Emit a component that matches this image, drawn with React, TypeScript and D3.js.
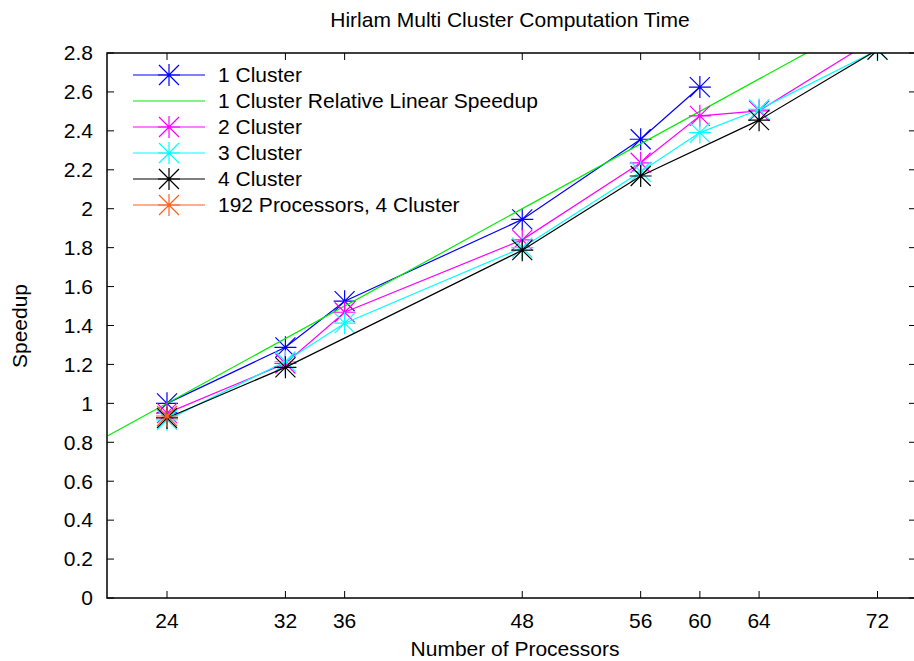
import React, { useEffect, useRef } from 'react';
import * as d3 from 'd3';

const xTicks = [24, 32, 36, 48, 56, 60, 64, 72];
const yTicks = [0, 0.2, 0.4, 0.6, 0.8, 1, 1.2, 1.4, 1.6, 1.8, 2, 2.2, 2.4, 2.6, 2.8];

const cluster1X = [24, 32, 36, 48, 56, 60];
const cluster1Y = [1.0, 1.288, 1.525, 1.945, 2.357, 2.625];

const linearX = [20, 72];
const linearY = [0.8333, 3.0];

const cluster2X = [24, 32, 36, 48, 56, 60, 64, 72];
const cluster2Y = [0.95, 1.205, 1.468, 1.84, 2.236, 2.477, 2.503, 2.88];

const cluster3X = [24, 32, 36, 48, 56, 60, 64, 72];
const cluster3Y = [0.915, 1.215, 1.412, 1.8, 2.19, 2.391, 2.51, 2.815];

const cluster4X = [24, 32, 48, 56, 64, 72];
const cluster4Y = [0.925, 1.185, 1.787, 2.168, 2.455, 2.817];

const p192X = [24];
const p192Y = [0.935];

const series = [
  { name: '1 Cluster', color: '#0000ff', xs: cluster1X, ys: cluster1Y, marks: true },
  { name: '1 Cluster Relative Linear Speedup', color: '#00ee00', xs: linearX, ys: linearY, marks: false },
  { name: '2 Cluster', color: '#ff00ff', xs: cluster2X, ys: cluster2Y, marks: true },
  { name: '3 Cluster', color: '#00ffff', xs: cluster3X, ys: cluster3Y, marks: true },
  { name: '4 Cluster', color: '#000000', xs: cluster4X, ys: cluster4Y, marks: true },
  { name: '192 Processors, 4 Cluster', color: '#ff6020', xs: p192X, ys: p192Y, marks: true },
];

const W = 914;
const H = 661;
const left = 107;
const right = 916;
const top = 53;
const bottom = 598;
const font = 'Liberation Sans, Arial, sans-serif';
const fs = '21px';

// gnuplot style star: plus and cross
const starPath = (r: number, d: number) =>
  `M${-r},0H${r}M0,${-r}V${r}M${-d},${-d}L${d},${d}M${-d},${d}L${d},${-d}`;

export default function App() {
  const ref = useRef<SVGSVGElement | null>(null);

  useEffect(() => {
    const svg = d3.select(ref.current);
    svg.selectAll('*').remove();

    const x = d3.scaleLinear().domain([24, 72]).range([167, 877.5]);
    const y = d3.scaleLinear().domain([0, 2.8]).range([bottom, top]);

    svg.append('rect').attr('width', W).attr('height', H).attr('fill', 'white');

    svg.append('defs').append('clipPath').attr('id', 'plotclip')
      .append('rect').attr('x', left).attr('y', top).attr('width', right - left).attr('height', bottom - top);

    // title
    svg.append('text')
      .attr('x', 510).attr('y', 27)
      .attr('text-anchor', 'middle')
      .style('font-family', font).style('font-size', fs)
      .text('Hirlam Multi Cluster Computation Time');

    // y ticks + labels
    const yg = svg.append('g');
    yTicks.forEach(t => {
      yg.append('line').attr('x1', left).attr('x2', left + 7).attr('y1', y(t)).attr('y2', y(t))
        .attr('stroke', 'black');
      yg.append('line').attr('x1', right - 7).attr('x2', right).attr('y1', y(t)).attr('y2', y(t))
        .attr('stroke', 'black');
      yg.append('text')
        .attr('x', 93).attr('y', y(t)).attr('dy', '0.35em')
        .attr('text-anchor', 'end')
        .style('font-family', font).style('font-size', fs)
        .text(String(+t.toFixed(1)));
    });

    // x ticks + labels
    const xg = svg.append('g');
    xTicks.forEach(t => {
      xg.append('line').attr('x1', x(t)).attr('x2', x(t)).attr('y1', bottom).attr('y2', bottom - 7)
        .attr('stroke', 'black');
      xg.append('line').attr('x1', x(t)).attr('x2', x(t)).attr('y1', top).attr('y2', top + 7)
        .attr('stroke', 'black');
      xg.append('text')
        .attr('x', x(t)).attr('y', 628)
        .attr('text-anchor', 'middle')
        .style('font-family', font).style('font-size', fs)
        .text(String(t));
    });

    // axis titles
    svg.append('text')
      .attr('x', 515).attr('y', 656)
      .attr('text-anchor', 'middle')
      .style('font-family', font).style('font-size', fs)
      .text('Number of Processors');
    svg.append('text')
      .attr('transform', `translate(27, 326) rotate(-90)`)
      .attr('text-anchor', 'middle')
      .style('font-family', font).style('font-size', fs)
      .text('Speedup');

    // series
    const plot = svg.append('g').attr('clip-path', 'url(#plotclip)');
    const line = d3.line<[number, number]>().x(d => x(d[0])).y(d => y(d[1]));
    series.forEach(s => {
      const pts: [number, number][] = s.xs.map((v, i) => [v, s.ys[i]]);
      plot.append('path').attr('d', line(pts)).attr('fill', 'none')
        .attr('stroke', s.color).attr('stroke-width', 1.2);
      if (s.marks) {
        pts.forEach(p => {
          plot.append('path').attr('d', starPath(11, 10))
            .attr('transform', `translate(${x(p[0])},${y(p[1])})`)
            .attr('fill', 'none').attr('stroke', s.color).attr('stroke-width', 1.2);
        });
      }
    });

    // legend
    const lg = svg.append('g');
    series.forEach((s, i) => {
      const ly = 75 + i * 26;
      lg.append('line').attr('x1', 133).attr('x2', 205).attr('y1', ly).attr('y2', ly)
        .attr('stroke', s.color).attr('stroke-width', 1.2);
      if (s.marks) {
        lg.append('path').attr('d', starPath(11, 10))
          .attr('transform', `translate(169,${ly})`)
          .attr('fill', 'none').attr('stroke', s.color).attr('stroke-width', 1.2);
      }
      lg.append('text')
        .attr('x', 218).attr('y', ly).attr('dy', '0.35em')
        .style('font-family', font).style('font-size', fs)
        .text(s.name);
    });

    // border
    svg.append('rect')
      .attr('x', left).attr('y', top).attr('width', right - left).attr('height', bottom - top)
      .attr('fill', 'none').attr('stroke', 'black').attr('stroke-width', 1.5);
  }, []);

  return (
    <div style={{ position: 'absolute', left: 0, top: 0 }}>
      <svg ref={ref} width={W} height={H} style={{ display: 'block' }} />
    </div>
  );
}
